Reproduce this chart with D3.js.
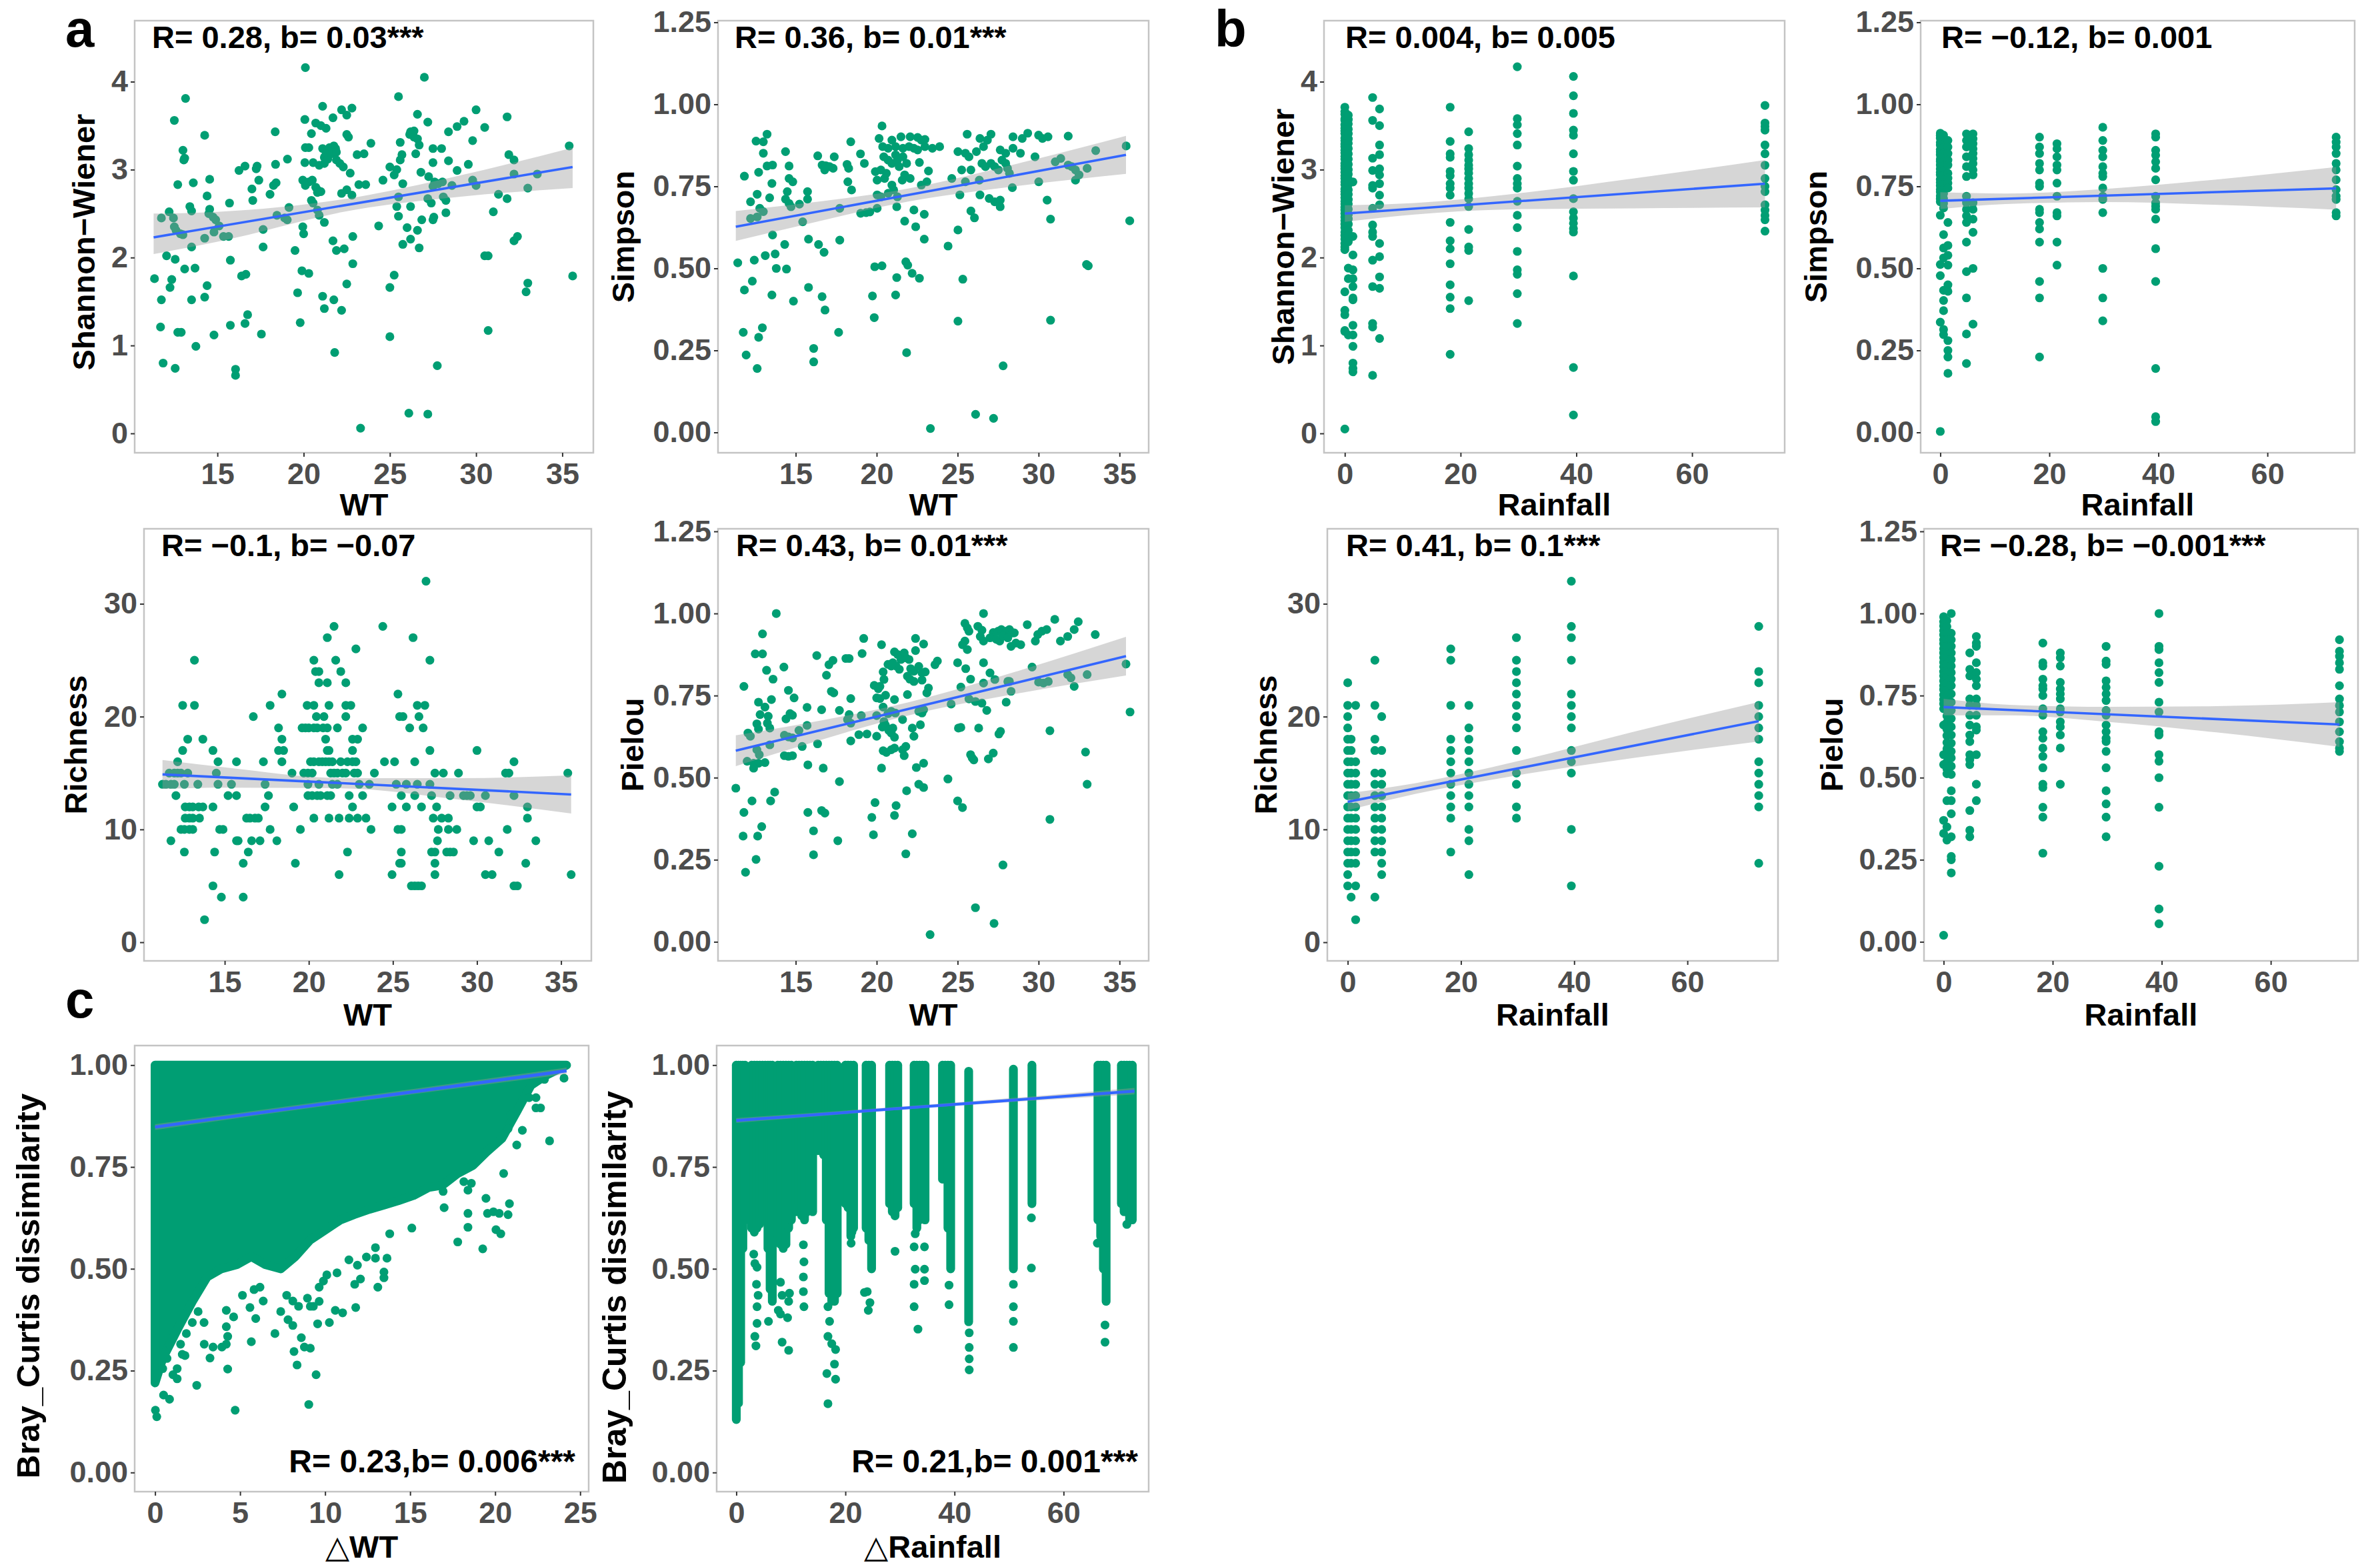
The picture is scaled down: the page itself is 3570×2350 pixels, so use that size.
<!DOCTYPE html>
<html>
<head>
<meta charset="utf-8">
<script src="https://cdn.jsdelivr.net/npm/d3@7"></script>
<style>
  body { margin: 0; background: #fff; }
</style>
</head>
<body>
<svg id="chart" width="3570" height="2350"></svg>
<script>
/* global d3 */

// ---------- data: panel a (WT) ----------
const wtShannon = [[20.1,4.16],[27.0,4.05],[13.15,3.81],[25.5,3.83],[12.5,3.56],[21.1,3.72],[22.2,3.68],[22.8,3.70],[22.5,3.62],[20.07,3.57],[21.7,3.59],[20.7,3.53],[21.0,3.50],[21.3,3.47],[26.6,3.63],[27.2,3.54],[30.0,3.68],[31.8,3.60],[29.3,3.55],[28.9,3.49],[30.5,3.48],[28.4,3.43],[18.35,3.43],[14.26,3.39],[20.45,3.41],[22.5,3.40],[22.6,3.37],[26.2,3.43],[26.4,3.44],[26.15,3.40],[26.4,3.37],[26.6,3.35],[26.7,3.28],[29.8,3.33],[25.6,3.31],[23.9,3.30],[13.0,3.22],[13.1,3.13],[13.05,3.11],[20.1,3.25],[20.3,3.25],[21.1,3.24],[21.5,3.25],[21.75,3.27],[21.85,3.24],[21.5,3.20],[21.3,3.18],[21.2,3.14],[21.4,3.12],[21.6,3.18],[21.9,3.20],[27.5,3.24],[28.0,3.24],[31.9,3.17],[32.2,3.11],[25.7,3.17],[25.6,3.11],[23.1,3.17],[23.5,3.18],[26.5,3.18],[19.06,3.12],[17.3,3.04],[16.6,3.04],[17.25,3.01],[16.25,2.99],[18.37,3.06],[20.07,3.08],[20.55,3.08],[20.9,3.05],[21.2,3.07],[21.9,3.11],[22.1,3.07],[22.3,3.03],[22.7,2.96],[25.0,3.03],[25.4,3.0],[25.25,2.94],[27.5,3.08],[28.4,3.10],[29.55,3.06],[26.8,2.97],[28.9,2.99],[27.25,2.92],[27.6,2.86],[27.5,2.81],[27.8,2.84],[28.05,2.86],[32.2,2.95],[33.55,2.95],[29.8,2.88],[30.0,2.82],[13.6,2.85],[14.55,2.89],[12.7,2.83],[17.0,2.78],[17.4,2.88],[18.25,2.82],[18.4,2.85],[19.95,2.88],[20.3,2.86],[20.1,2.82],[20.5,2.88],[20.7,2.80],[20.8,2.77],[21.0,2.75],[20.8,2.74],[23.2,2.83],[23.6,2.83],[24.6,2.88],[25.75,2.84],[28.6,2.82],[22.2,2.73],[22.5,2.77],[22.8,2.71],[31.3,2.72],[31.8,2.67],[33.0,2.79],[14.4,2.70],[17.05,2.65],[18.05,2.72],[15.7,2.62],[20.45,2.65],[20.55,2.62],[25.5,2.69],[25.4,2.58],[27.2,2.67],[27.4,2.62],[28.1,2.69],[28.25,2.65],[13.4,2.58],[13.5,2.53],[14.55,2.55],[14.5,2.50],[19.15,2.57],[26.2,2.58],[12.2,2.52],[20.8,2.54],[20.9,2.48],[18.45,2.48],[28.25,2.51],[31.0,2.52],[11.75,2.45],[12.45,2.45],[14.75,2.46],[14.9,2.43],[18.9,2.45],[19.05,2.43],[25.5,2.47],[27.55,2.46],[27.5,2.43],[21.2,2.40],[12.5,2.35],[12.6,2.31],[12.85,2.27],[13.0,2.26],[15.1,2.36],[24.35,2.36],[26.85,2.43],[26.0,2.34],[17.65,2.32],[19.95,2.35],[20.0,2.27],[14.8,2.29],[15.35,2.24],[15.65,2.24],[14.26,2.22],[26.6,2.31],[22.85,2.24],[21.7,2.19],[32.2,2.19],[32.4,2.24],[13.5,2.12],[17.65,2.12],[25.75,2.15],[26.2,2.21],[26.7,2.11],[21.9,2.08],[22.35,2.10],[19.5,2.08],[12.05,2.02],[12.55,1.98],[15.75,1.97],[30.5,2.02],[30.7,2.02],[22.85,1.93],[13.1,1.87],[13.7,1.88],[19.9,1.85],[20.3,1.82],[11.35,1.76],[12.35,1.75],[16.4,1.79],[16.65,1.81],[25.25,1.80],[35.6,1.79],[22.5,1.70],[33.0,1.71],[32.9,1.61],[12.25,1.66],[14.4,1.68],[25.0,1.66],[19.65,1.60],[21.1,1.56],[14.26,1.55],[11.75,1.52],[13.5,1.52],[21.75,1.52],[21.2,1.42],[22.2,1.40],[16.75,1.35],[16.6,1.25],[19.8,1.26],[15.75,1.23],[11.7,1.21],[12.7,1.15],[12.9,1.15],[14.8,1.12],[17.55,1.13],[25.0,1.10],[30.7,1.17],[13.75,0.99],[21.8,0.92],[11.85,0.80],[12.55,0.74],[27.75,0.77],[16.05,0.73],[16.05,0.66],[26.1,0.23],[27.2,0.22],[23.3,0.06],[35.4,3.27]];

const wtSimpson = [[20.33,0.934],[13.23,0.909],[12.55,0.888],[13.0,0.886],[18.4,0.886],[25.59,0.909],[27.06,0.909],[29.33,0.912],[30.0,0.906],[30.24,0.896],[30.58,0.901],[31.83,0.903],[28.42,0.901],[28.99,0.896],[20.15,0.896],[20.94,0.891],[21.5,0.901],[22.07,0.901],[22.53,0.899],[22.76,0.891],[22.98,0.893],[20.37,0.871],[20.71,0.866],[21.17,0.871],[21.62,0.866],[22.0,0.871],[22.3,0.866],[22.53,0.861],[22.98,0.871],[23.44,0.866],[23.89,0.871],[13.0,0.851],[14.37,0.856],[16.36,0.843],[17.38,0.840],[19.0,0.849],[19.24,0.82],[25.02,0.856],[25.48,0.851],[25.7,0.84],[26.16,0.856],[26.6,0.871],[26.38,0.896],[26.84,0.891],[27.63,0.861],[27.97,0.851],[27.74,0.83],[28.42,0.866],[28.88,0.851],[29.78,0.84],[33.53,0.859],[35.41,0.873],[20.44,0.84],[20.71,0.83],[20.94,0.82],[21.17,0.846],[21.28,0.83],[21.39,0.81],[21.62,0.84],[21.85,0.82],[22.64,0.823],[16.63,0.815],[16.86,0.813],[17.09,0.81],[17.31,0.805],[16.79,0.80],[18.17,0.817],[18.27,0.805],[14.59,0.812],[13.23,0.812],[13.57,0.815],[12.71,0.793],[19.92,0.795],[20.26,0.80],[20.6,0.79],[20.03,0.769],[23.2,0.797],[25.25,0.80],[25.82,0.80],[27.06,0.82],[27.29,0.81],[27.52,0.80],[26.5,0.82],[26.72,0.81],[27.97,0.82],[28.08,0.805],[28.2,0.79],[31.03,0.825],[31.37,0.835],[31.83,0.815],[32.05,0.81],[32.28,0.80],[32.5,0.785],[33.0,0.805],[11.83,0.781],[13.53,0.759],[14.59,0.774],[14.82,0.764],[18.22,0.764],[18.45,0.739],[20.49,0.774],[20.94,0.754],[21.58,0.769],[21.73,0.785],[22.07,0.774],[22.76,0.754],[23.1,0.764],[24.64,0.774],[25.48,0.764],[26.34,0.769],[28.38,0.746],[30.01,0.764],[32.28,0.769],[15.73,0.734],[14.48,0.734],[13.39,0.715],[15.73,0.711],[12.21,0.703],[12.62,0.726],[14.37,0.711],[14.59,0.698],[14.71,0.688],[15.23,0.696],[20.03,0.724],[20.26,0.718],[20.71,0.729],[21.05,0.739],[21.28,0.718],[25.14,0.724],[26.38,0.724],[26.95,0.713],[27.29,0.703],[27.63,0.708],[27.63,0.688],[30.53,0.708],[12.78,0.683],[13.0,0.673],[12.21,0.652],[12.62,0.657],[17.72,0.683],[20.03,0.683],[21.24,0.688],[22.3,0.678],[19.01,0.668],[19.35,0.67],[19.58,0.672],[22.94,0.665],[25.82,0.675],[26.04,0.654],[15.43,0.642],[21.73,0.644],[30.74,0.65],[35.63,0.645],[22.41,0.627],[25.02,0.617],[15.79,0.589],[17.72,0.586],[22.94,0.589],[16.41,0.573],[16.75,0.549],[14.32,0.573],[24.41,0.568],[13.57,0.602],[13.12,0.539],[13.73,0.544],[11.42,0.517],[12.44,0.525],[19.88,0.505],[20.33,0.508],[32.96,0.512],[33.07,0.508],[13.8,0.50],[14.43,0.498],[21.8,0.52],[21.92,0.51],[12.32,0.461],[22.19,0.485],[22.64,0.47],[21.24,0.472],[25.32,0.467],[11.83,0.434],[15.79,0.442],[13.53,0.419],[16.63,0.414],[19.74,0.416],[21.17,0.419],[14.86,0.40],[16.81,0.373],[19.85,0.35],[25.02,0.339],[30.74,0.342],[12.94,0.319],[11.76,0.305],[17.65,0.305],[12.71,0.29],[16.11,0.256],[16.11,0.215],[11.94,0.236],[21.85,0.243],[12.62,0.195],[27.81,0.203],[26.11,0.055],[27.22,0.043],[23.32,0.012]];

const wtRichness = [[26.97,32],[21.5,28],[24.4,28],[21.1,27],[26.2,27],[22.8,26],[13.2,25],[20.3,25],[21.6,25],[27.2,25],[20.4,24],[20.6,24],[21.9,24],[20.6,23],[21.1,23],[22.2,23],[18.4,22],[25.3,22],[12.5,21],[13.2,21],[17.7,21],[19.9,21],[20.3,21],[21.2,21],[22.2,21],[22.5,21],[26.45,21],[26.9,21],[16.7,20],[20.45,20],[20.9,20],[22.2,20],[25.4,20],[25.6,20],[26.55,20],[18.2,19],[19.6,19],[19.8,19],[20.0,19],[20.3,19],[20.5,19],[20.85,19],[21.1,19],[21.7,19],[23.2,19],[26.0,19],[26.8,19],[12.8,18],[13.7,18],[18.4,18],[21.0,18],[22.6,18],[22.9,18],[12.5,17],[14.3,17],[18.2,17],[18.5,17],[21.1,17],[21.2,17],[22.6,17],[27.2,17],[30.0,17],[12.2,16],[14.6,16],[15.7,16],[17.3,16],[18.4,16],[20.1,16],[20.3,16],[20.6,16],[20.8,16],[21.0,16],[21.2,16],[21.4,16],[21.9,16],[22.3,16],[22.6,16],[22.8,16],[24.5,16],[25.1,16],[26.3,16],[32.2,16],[11.7,15],[12.0,15],[12.2,15],[12.4,15],[12.8,15],[14.5,15],[19.0,15],[19.7,15],[19.95,15],[20.2,15],[21.3,15],[21.5,15],[21.7,15],[22.0,15],[22.2,15],[22.7,15],[22.9,15],[23.9,15],[27.5,15],[28.0,15],[28.9,15],[31.7,15],[31.9,15],[35.4,15],[11.3,14],[11.5,14],[11.8,14],[12.0,14],[12.6,14],[13.4,14],[14.6,14],[15.4,14],[17.4,14],[19.95,14],[20.6,14],[21.4,14],[21.7,14],[23.0,14],[23.6,14],[25.2,14],[25.8,14],[26.45,14],[27.2,14],[12.1,13],[15.2,13],[15.7,13],[17.6,13],[19.95,13],[20.2,13],[20.5,13],[20.7,13],[21.1,13],[21.3,13],[22.4,13],[23.2,13],[25.5,13],[26.3,13],[27.3,13],[28.4,13],[29.2,13],[29.4,13],[29.6,13],[30.5,13],[32.2,13],[12.65,12],[12.9,12],[13.1,12],[13.45,12],[13.7,12],[14.3,12],[17.4,12],[19.1,12],[22.6,12],[24.95,12],[25.8,12],[26.7,12],[27.6,12],[30.0,12],[30.2,12],[33.0,12],[12.65,11],[12.9,11],[13.1,11],[13.5,11],[16.3,11],[16.5,11],[16.8,11],[17.0,11],[20.3,11],[21.2,11],[21.8,11],[22.4,11],[22.9,11],[23.4,11],[27.4,11],[27.9,11],[28.3,11],[33.0,11],[12.4,10],[12.6,10],[12.9,10],[13.1,10],[14.7,10],[14.9,10],[17.7,10],[19.5,10],[23.7,10],[25.3,10],[25.5,10],[27.7,10],[28.3,10],[28.8,10],[31.8,10],[11.8,9],[15.7,9],[15.8,9],[16.6,9],[17.1,9],[18.1,9],[27.65,9],[29.8,9],[30.7,9],[33.5,9],[12.6,8],[14.4,8],[16.4,8],[22.3,8],[25.5,8],[27.3,8],[27.5,8],[28.2,8],[28.4,8],[28.6,8],[31.3,8],[16.1,7],[19.2,7],[25.4,7],[25.5,7],[27.5,7],[32.9,7],[21.8,6],[24.95,6],[27.5,6],[30.5,6],[30.9,6],[35.6,6],[14.3,5],[26.1,5],[26.3,5],[26.5,5],[26.7,5],[32.2,5],[32.4,5],[14.8,4],[16.1,4],[13.8,2]];

const wtPielou = [[13.8,1.0],[26.6,1.0],[12.95,0.938],[25.45,0.97],[25.6,0.956],[25.7,0.946],[26.25,0.961],[26.5,0.949],[26.4,0.93],[27.2,0.942],[27.5,0.946],[27.7,0.951],[28.0,0.946],[28.2,0.951],[28.4,0.941],[27.0,0.926],[27.4,0.921],[27.6,0.916],[27.8,0.931],[28.1,0.926],[28.5,0.941],[28.6,0.910],[28.3,0.900],[29.3,0.966],[29.95,0.936],[30.2,0.946],[30.5,0.951],[31.0,0.982],[31.35,0.916],[31.8,0.93],[32.2,0.951],[32.45,0.975],[33.5,0.936],[28.9,0.905],[29.8,0.916],[25.45,0.916],[25.3,0.905],[25.6,0.89],[26.6,0.916],[19.2,0.924],[22.4,0.924],[22.9,0.907],[20.3,0.905],[12.5,0.877],[12.95,0.877],[16.3,0.872],[19.1,0.878],[21.1,0.883],[21.3,0.875],[21.6,0.870],[21.8,0.865],[22.0,0.860],[21.7,0.880],[21.5,0.860],[22.4,0.887],[18.1,0.863],[18.3,0.863],[17.3,0.857],[17.05,0.844],[20.7,0.845],[20.9,0.840],[21.4,0.830],[21.2,0.840],[21.0,0.850],[23.75,0.855],[23.6,0.844],[25.0,0.85],[26.6,0.85],[29.6,0.837],[35.4,0.846],[14.27,0.837],[13.2,0.827],[22.1,0.832],[22.3,0.824],[22.6,0.839],[22.8,0.819],[25.5,0.832],[23.0,0.822],[16.9,0.812],[13.6,0.80],[20.4,0.822],[20.45,0.799],[21.9,0.809],[22.05,0.80],[22.3,0.793],[25.8,0.80],[27.0,0.819],[27.3,0.799],[28.1,0.793],[30.0,0.791],[30.3,0.788],[30.6,0.793],[31.8,0.814],[32.0,0.804],[32.2,0.778],[33.0,0.814],[11.8,0.778],[22.8,0.797],[19.85,0.781],[20.1,0.771],[20.2,0.778],[26.6,0.788],[25.2,0.776],[14.55,0.766],[17.2,0.763],[17.35,0.758],[23.2,0.773],[23.1,0.758],[28.3,0.763],[28.2,0.793],[14.9,0.743],[12.7,0.73],[13.5,0.738],[18.4,0.741],[20.0,0.743],[20.2,0.741],[20.55,0.751],[21.1,0.738],[21.9,0.753],[28.0,0.73],[24.6,0.724],[25.7,0.74],[26.1,0.732],[26.5,0.727],[13.1,0.715],[15.7,0.714],[16.6,0.707],[17.7,0.705],[20.4,0.715],[22.6,0.702],[22.8,0.697],[22.9,0.707],[26.8,0.705],[35.65,0.70],[12.8,0.692],[13.3,0.687],[14.4,0.679],[14.65,0.695],[14.8,0.69],[18.3,0.692],[19.05,0.689],[20.0,0.689],[20.7,0.695],[20.9,0.702],[21.15,0.697],[18.2,0.677],[18.4,0.666],[21.6,0.677],[15.7,0.659],[13.25,0.666],[13.4,0.651],[12.6,0.664],[12.7,0.648],[20.45,0.671],[20.55,0.659],[20.35,0.654],[22.7,0.661],[25.05,0.651],[25.2,0.653],[26.3,0.651],[30.7,0.643],[27.65,0.641],[27.55,0.633],[15.2,0.644],[22.2,0.651],[20.75,0.644],[21.0,0.651],[20.9,0.636],[18.9,0.631],[19.4,0.633],[20.0,0.626],[22.3,0.626],[12.05,0.636],[12.2,0.626],[14.3,0.629],[14.55,0.624],[14.8,0.621],[21.1,0.623],[18.4,0.612],[16.35,0.603],[21.8,0.595],[21.6,0.585],[15.4,0.595],[13.4,0.60],[20.4,0.582],[20.6,0.577],[20.9,0.585],[21.1,0.59],[12.6,0.585],[12.75,0.57],[14.3,0.567],[14.55,0.565],[14.8,0.567],[21.7,0.567],[25.8,0.57],[25.9,0.56],[26.0,0.554],[27.2,0.575],[26.9,0.557],[32.9,0.578],[12.0,0.55],[12.4,0.544],[12.7,0.544],[13.1,0.546],[15.75,0.539],[16.7,0.529],[20.3,0.529],[22.45,0.531],[22.9,0.544],[12.4,0.529],[17.7,0.488],[24.4,0.496],[33.0,0.480],[22.6,0.48],[22.9,0.47],[11.3,0.468],[13.7,0.456],[21.85,0.46],[12.3,0.429],[13.45,0.429],[19.9,0.424],[25.0,0.429],[25.3,0.409],[21.2,0.415],[11.8,0.394],[15.75,0.394],[16.6,0.40],[16.8,0.392],[21.1,0.385],[19.7,0.379],[30.7,0.373],[12.9,0.351],[16.1,0.338],[11.75,0.322],[12.65,0.322],[19.8,0.326],[22.2,0.329],[17.6,0.308],[16.1,0.265],[21.8,0.268],[12.55,0.251],[11.9,0.212],[27.8,0.234],[26.1,0.104],[27.25,0.056],[23.3,0.022]];

// ---------- data: panel b (Rainfall, one column of samples per rainfall value) ----------
const rainCols = [0, 0.6, 1.4, 4.8, 6.0, 18.2, 21.4, 29.8, 39.5, 72.6];

const rainShannon = [
  [3.71,3.66,3.63,3.58,3.56,3.51,3.47,3.44,3.41,3.36,3.33,3.29,3.26,3.22,3.19,3.15,3.12,3.07,3.04,3.01,2.97,2.93,2.90,2.86,2.83,2.78,2.75,2.72,2.68,2.64,2.61,2.57,2.54,2.50,2.46,2.42,2.38,2.34,2.29,2.25,2.21,2.16,2.12,2.09,1.61,1.40,1.35,1.17,1.16,0.05],
  [3.62,3.57,3.52,3.46,3.41,3.35,3.30,3.24,3.18,3.12,3.06,3.00,2.95,2.89,2.83,2.77,2.72,2.66,2.61,2.55,2.49,2.44,2.38,2.31,2.25,2.18,1.88,1.76,1.12],
  [2.86,2.24,2.03,1.86,1.76,1.67,1.54,1.52,1.23,1.12,0.99,0.80,0.74,0.70],
  [3.82,3.56,3.13,2.99,2.82,2.79,2.56,2.37,2.29,2.24,1.97,1.67,1.25,1.21,0.66],
  [3.69,3.50,3.28,3.17,3.01,2.94,2.84,2.71,2.60,2.16,2.01,1.78,1.65,1.08],
  [3.71,3.32,3.18,3.14,2.98,2.93,2.84,2.79,2.71,2.40,2.19,2.10,1.93,1.69,1.55,1.42,0.90],
  [3.43,3.24,3.17,3.11,3.05,3.01,2.96,2.90,2.84,2.79,2.73,2.67,2.58,2.32,2.12,2.08,1.51],
  [4.17,3.58,3.51,3.41,3.28,3.04,2.90,2.84,2.79,2.64,2.48,2.34,2.07,1.86,1.81,1.59,1.25],
  [4.06,3.84,3.64,3.45,3.39,3.18,2.98,2.88,2.67,2.52,2.45,2.39,2.33,2.29,1.79,0.75,0.21],
  [3.73,3.53,3.49,3.45,3.28,3.18,3.05,2.90,2.81,2.75,2.60,2.54,2.48,2.43,2.30]
];

const rainSimpson = [
  [0.912,0.905,0.897,0.884,0.876,0.862,0.855,0.846,0.833,0.826,0.815,0.804,0.793,0.785,0.771,0.762,0.752,0.741,0.733,0.721,0.712,0.703,0.662,0.512,0.478,0.336,0.003],
  [0.906,0.893,0.879,0.868,0.851,0.838,0.827,0.812,0.798,0.784,0.769,0.757,0.741,0.728,0.713,0.698,0.684,0.603,0.562,0.532,0.433,0.402,0.371,0.314,0.298],
  [0.89,0.87,0.85,0.83,0.815,0.79,0.775,0.76,0.745,0.64,0.57,0.54,0.51,0.45,0.43,0.28,0.25,0.23,0.18],
  [0.91,0.89,0.87,0.84,0.81,0.78,0.72,0.70,0.68,0.66,0.64,0.58,0.49,0.41,0.30,0.21],
  [0.91,0.895,0.88,0.865,0.85,0.835,0.82,0.80,0.785,0.70,0.68,0.65,0.61,0.50,0.33],
  [0.90,0.87,0.85,0.82,0.80,0.76,0.75,0.68,0.67,0.64,0.62,0.58,0.46,0.41,0.23],
  [0.88,0.865,0.84,0.815,0.80,0.76,0.72,0.67,0.66,0.58,0.51],
  [0.93,0.89,0.86,0.84,0.81,0.79,0.78,0.745,0.72,0.71,0.67,0.50,0.41,0.34],
  [0.91,0.90,0.86,0.845,0.825,0.805,0.77,0.72,0.70,0.69,0.68,0.65,0.56,0.46,0.195,0.048,0.033],
  [0.90,0.885,0.87,0.85,0.82,0.80,0.77,0.74,0.72,0.71,0.67,0.66]
];

const rainRichness = [
  [23,21,20,19,18,17,16,15,14,13,12,11,10,9,8,7,6,5],
  [18,17,16,15,14,13,12,11,10,9,8,7,4],
  [21,16,15,14,13,12,11,10,9,8,7,5,2],
  [25,21,18,17,15,14,13,12,11,10,9,8,4],
  [20,17,15,14,13,12,11,10,9,8,7,6],
  [26,25,21,18,17,16,15,14,13,12,11,8],
  [21,19,18,17,16,15,14,13,12,10,9,6],
  [27,25,24,23,22,21,20,19,17,15,14,12,11],
  [32,28,27,25,22,21,20,19,17,16,15,10,5],
  [28,24,23,21,20,19,18,16,15,14,13,12,7]
];

const rainPielou = [
  [0.99,0.975,0.962,0.948,0.935,0.92,0.908,0.893,0.88,0.866,0.852,0.838,0.823,0.81,0.795,0.78,0.768,0.752,0.738,0.725,0.71,0.66,0.57,0.54,0.37,0.33,0.02],
  [0.978,0.96,0.94,0.92,0.90,0.885,0.865,0.845,0.825,0.805,0.787,0.766,0.748,0.727,0.706,0.688,0.668,0.647,0.628,0.607,0.588,0.567,0.548,0.527,0.512,0.43,0.35,0.31],
  [1.0,0.94,0.92,0.90,0.88,0.86,0.84,0.82,0.80,0.78,0.755,0.73,0.705,0.68,0.655,0.63,0.605,0.58,0.56,0.535,0.51,0.46,0.43,0.39,0.32,0.26,0.25,0.21],
  [0.88,0.83,0.81,0.74,0.72,0.69,0.66,0.63,0.61,0.57,0.555,0.54,0.40,0.34,0.32],
  [0.93,0.91,0.90,0.85,0.82,0.80,0.78,0.74,0.72,0.69,0.655,0.645,0.57,0.48,0.43],
  [0.91,0.85,0.84,0.80,0.78,0.77,0.75,0.71,0.69,0.64,0.62,0.59,0.565,0.53,0.48,0.47,0.41,0.38,0.27],
  [0.88,0.865,0.84,0.79,0.77,0.755,0.74,0.71,0.70,0.67,0.655,0.63,0.59,0.48],
  [0.90,0.855,0.845,0.795,0.775,0.755,0.735,0.705,0.69,0.66,0.64,0.62,0.61,0.58,0.53,0.46,0.42,0.38,0.32],
  [1.0,0.90,0.89,0.85,0.82,0.79,0.73,0.70,0.64,0.63,0.57,0.55,0.50,0.41,0.23,0.10,0.055],
  [0.92,0.885,0.87,0.85,0.83,0.78,0.74,0.72,0.70,0.67,0.64,0.61,0.59,0.58]
];

// ---------- data: panel c (pairwise dissimilarity) ----------
// dense cloud for dWT: [dWT, lower edge, upper edge] (point centres)
const dwtCloud = [[0,0.22,1.0],[0.45,0.28,1.0],[1.3,0.35,1.0],[2.2,0.42,1.0],[3.06,0.48,1.0],[3.9,0.50,1.0],[4.8,0.51,1.0],[5.66,0.53,1.0],[6.5,0.51,1.0],[7.4,0.50,1.0],[8.25,0.53,1.0],[9.1,0.57,1.0],[10.0,0.595,1.0],[10.9,0.62,1.0],[11.7,0.633,1.0],[12.6,0.646,1.0],[13.5,0.657,1.0],[14.3,0.667,1.0],[15.2,0.68,1.0],[16.1,0.70,1.0],[16.9,0.705,1.0],[17.8,0.734,1.0],[18.7,0.754,1.0],[19.5,0.787,1.0],[20.4,0.82,1.0],[21.3,0.888,1.0],[22.1,0.95,1.0],[23.0,0.975,1.0],[24.2,1.0,1.0]];
const dwtOutliers = [[0.02,0.153],[0.1,0.137],[0.85,0.18],[0.5,0.19],[1.05,0.24],[1.3,0.23],[0.7,0.28],[1.6,0.29],[2.45,0.214],[1.76,0.287],[3.23,0.281],[2.89,0.315],[3.41,0.308],[3.93,0.308],[4.19,0.315],[4.27,0.334],[4.19,0.358],[4.27,0.254],[4.71,0.153],[5.66,0.321],[4.19,0.398],[4.62,0.382],[5.58,0.405],[5.92,0.378],[7.05,0.341],[7.39,0.395],[7.82,0.375],[8.1,0.361],[8.6,0.331],[8.17,0.297],[8.78,0.308],[9.13,0.305],[8.35,0.264],[9.47,0.24],[9.04,0.167],[9.56,0.365],[10.25,0.368],[10.6,0.398],[11.03,0.392],[11.8,0.405],[9.65,0.42],[9.13,0.408],[11.4,0.522],[11.9,0.509],[12.43,0.529],[12.96,0.526],[13.64,0.526],[11.74,0.462],[12.08,0.475],[13.1,0.455],[13.46,0.492],[13.46,0.478],[12.96,0.552],[13.8,0.586],[15.1,0.6],[17.0,0.65],[17.8,0.566],[18.4,0.636],[18.4,0.602],[19.27,0.549],[19.46,0.673],[19.55,0.636],[19.9,0.64],[20.24,0.636],[20.76,0.633],[20.84,0.66],[20.05,0.596],[20.33,0.586],[20.5,0.734],[18.6,0.71],[21.6,0.84],[23.2,0.814],[22.67,0.895],[22.4,0.895],[22.0,0.92],[22.4,0.92],[24.05,0.968],[21.8,0.975],[22.9,0.965],[21.27,0.804],[20.76,0.844],[20.9,0.878],[16.94,0.69],[18.4,0.693],[18.16,0.714],[5.82,0.449],[6.17,0.455],[6.36,0.421],[5.14,0.435],[7.74,0.435],[8.1,0.421],[8.44,0.408],[8.96,0.428],[9.31,0.408],[9.65,0.455],[10.1,0.485],[10.7,0.49],[9.9,0.47],[2.53,0.395],[2.88,0.368],[2.19,0.368],[1.84,0.341],[1.5,0.315],[0.85,0.315],[1.3,0.255],[0.45,0.255]];

// solid runs of points for dRainfall: [dRainfall, lowest, highest]
const drainRuns = [[0,0.13,1.0],[0.4,0.17,1.0],[0.8,0.27,1.0],[1.2,0.55,1.0],[1.6,0.62,1.0],[2.8,0.60,1.0],[3.3,0.59,1.0],[3.8,0.60,1.0],[4.3,0.61,1.0],[4.8,0.63,1.0],[5.3,0.62,1.0],[5.8,0.55,1.0],[6.2,0.45,1.0],[6.6,0.42,1.0],[7.6,0.58,1.0],[8.1,0.56,1.0],[8.6,0.55,1.0],[9.1,0.56,1.0],[9.6,0.60,1.0],[10.1,0.62,1.0],[11.0,0.64,1.0],[11.5,0.66,1.0],[12.0,0.63,1.0],[12.5,0.62,1.0],[13.0,0.64,1.0],[13.5,0.66,1.0],[14.0,0.64,1.0],[15.0,0.79,1.0],[15.5,0.79,1.0],[16.0,0.78,1.0],[16.5,0.62,1.0],[17.0,0.44,1.0],[17.5,0.42,1.0],[18.0,0.42,1.0],[18.5,0.44,1.0],[20.0,0.66,1.0],[20.5,0.65,1.0],[21.0,0.58,1.0],[21.5,0.60,1.0],[23.8,0.60,1.0],[24.3,0.57,1.0],[24.8,0.50,1.0],[28.1,0.66,1.0],[28.6,0.64,1.0],[29.1,0.63,1.0],[29.6,0.65,1.0],[32.6,0.66,1.0],[33.1,0.60,1.0],[33.6,0.62,1.0],[34.1,0.64,1.0],[34.6,0.62,1.0],[37.8,0.72,1.0],[38.3,0.72,1.0],[38.8,0.60,1.0],[39.3,0.50,1.0],[42.6,0.37,0.985],[50.8,0.50,0.99],[54.2,0.66,1.0],[66.3,0.62,1.0],[66.8,0.58,1.0],[67.3,0.50,1.0],[67.8,0.42,1.0],[70.6,0.66,1.0],[71.1,0.64,1.0],[71.6,0.64,1.0],[72.1,0.62,1.0],[72.6,0.62,1.0]];
const drainOutliers = [[3.2,0.536],[3.4,0.513],[3.8,0.504],[3.7,0.462],[4.0,0.435],[3.8,0.407],[3.8,0.366],[3.4,0.334],[3.6,0.311],[5.9,0.371],[8.1,0.467],[8.4,0.435],[7.7,0.398],[8.1,0.389],[8.4,0.32],[9.6,0.30],[9.75,0.44],[9.6,0.42],[9.4,0.38],[12.3,0.559],[12.4,0.517],[12.3,0.48],[12.3,0.444],[12.4,0.407],[16.8,0.407],[17.1,0.371],[16.8,0.334],[17.5,0.316],[18.2,0.302],[16.6,0.243],[18.2,0.229],[16.8,0.169],[18.0,0.266],[21.2,0.59],[21.05,0.563],[24.0,0.444],[24.5,0.417],[24.2,0.398],[23.5,0.442],[29.1,0.543],[32.8,0.586],[32.6,0.554],[32.8,0.499],[32.6,0.462],[32.6,0.407],[33.3,0.352],[34.5,0.554],[34.5,0.499],[34.5,0.471],[39.0,0.46],[39.0,0.412],[42.7,0.343],[42.7,0.307],[42.7,0.279],[42.7,0.252],[50.8,0.462],[50.8,0.407],[50.8,0.371],[50.8,0.307],[54.1,0.625],[54.1,0.502],[67.6,0.362],[67.6,0.32],[71.6,0.609],[66.2,0.563]];

// ---------- fitted lines and 95% bands ----------
const fitA1 = [[11.3,2.23],[35.6,3.03]];
const ribA1 = [[11.3,2.04,2.50],[15,2.18,2.52],[23,2.545,2.685],[29,2.69,2.93],[35.6,2.79,3.25]];
const fitA2 = [[11.3,0.627],[35.4,0.846]];
const ribA2 = [[11.3,0.584,0.675],[15,0.627,0.695],[22,0.704,0.744],[29,0.753,0.823],[35.4,0.788,0.904]];
const fitA3 = [[11.3,14.88],[35.6,13.1]];
const ribA3 = [[11.3,13.6,16.16],[15,13.7,15.5],[22,13.65,14.55],[29,12.64,14.54],[35.6,11.41,14.79]];
const fitA4 = [[11.3,0.582],[35.4,0.87]];
const ribA4 = [[11.3,0.535,0.629],[15,0.592,0.66],[22,0.69,0.73],[29,0.759,0.829],[35.4,0.811,0.929]];
const fitB1 = [[0,2.50],[72.6,2.84]];
const ribB1 = [[0,2.405,2.595],[12,2.49,2.62],[30,2.55,2.73],[50,2.56,2.90],[72.6,2.57,3.11]];
const fitB2 = [[0,0.706],[72.6,0.744]];
const ribB2 = [[0,0.681,0.732],[12,0.696,0.728],[30,0.702,0.742],[50,0.694,0.77],[72.6,0.679,0.809]];
const fitB3 = [[0,12.45],[72.6,19.6]];
const ribB3 = [[0,11.7,13.2],[12,13.15,14.1],[30,14.8,16.05],[50,16.3,18.6],[72.6,17.8,21.3]];
const fitB4 = [[0,0.715],[72.6,0.662]];
const ribB4 = [[0,0.69,0.74],[12,0.69,0.722],[30,0.67,0.716],[50,0.638,0.718],[72.6,0.594,0.73]];
const fitC1 = [[0,0.848],[24.2,0.986]];
const ribC1 = [[0,0.841,0.855],[12,0.911,0.923],[24.2,0.978,0.994]];
const fitC2 = [[0,0.864],[73,0.936]];
const ribC2 = [[0,0.858,0.870],[36,0.896,0.904],[73,0.928,0.944]];

// ---------- tick values and labels ----------
const wtTicks = [15, 20, 25, 30, 35];
const rainTicks = [0, 20, 40, 60];
const dwtTicks = [0, 5, 10, 15, 20, 25];
const shannonTicks = [0, 1, 2, 3, 4];
const indexTicks = [0, 0.25, 0.5, 0.75, 1.0, 1.25];
const richTicks = [0, 10, 20, 30];
const brayTicks = [0, 0.25, 0.5, 0.75, 1.0];

const statLabels = {
  a1: 'R= 0.28, b= 0.03***', a2: 'R= 0.36, b= 0.01***',
  a3: 'R= \u22120.1, b= \u22120.07', a4: 'R= 0.43, b= 0.01***',
  b1: 'R= 0.004, b= 0.005', b2: 'R= \u22120.12, b= 0.001',
  b3: 'R= 0.41, b= 0.1***', b4: 'R= \u22120.28, b= \u22120.001***',
  c1: 'R= 0.23,b= 0.006***', c2: 'R= 0.21,b= 0.001***'
};

// ---------- layout ----------
const FONT = '"Liberation Sans", Arial, Helvetica, sans-serif';
const GREEN = '#009E73';
const R_PT = 6.6;
const f0 = d3.format('d'), f2 = d3.format('.2f');

const panels = [
  { id: 'a1', box: [202, 31, 890, 679], xDom: [10.2, 36.8], yDom: [-0.22, 4.694], xt: wtTicks, yt: shannonTicks, yf: f0,
    xTitle: 'WT', yTitle: 'Shannon\u2212Wiener', titleX: 142, titleDy: 8, xTitleDy: 94, pts: wtShannon, fit: fitA1, rib: ribA1, annDx: 26 },
  { id: 'a2', box: [1077, 31, 1723, 679], xDom: [10.2, 36.8], yDom: [-0.062, 1.255], xt: wtTicks, yt: indexTicks, yf: f2,
    xTitle: 'WT', yTitle: 'Simpson', titleX: 951, titleDy: 0, xTitleDy: 94, pts: wtSimpson, fit: fitA2, rib: ribA2, annDx: 25 },
  { id: 'a3', box: [216, 793, 887, 1441], xDom: [10.2, 36.8], yDom: [-1.65, 36.65], xt: wtTicks, yt: richTicks, yf: f0,
    xTitle: 'WT', yTitle: 'Richness', titleX: 130, titleDy: 0, xTitleDy: 97, pts: wtRichness, fit: fitA3, rib: ribA3, annDx: 26 },
  { id: 'a4', box: [1077, 793, 1723, 1441], xDom: [10.2, 36.8], yDom: [-0.058, 1.258], xt: wtTicks, yt: indexTicks, yf: f2,
    xTitle: 'WT', yTitle: 'Pielou', titleX: 965, titleDy: 0, xTitleDy: 97, pts: wtPielou, fit: fitA4, rib: ribA4, annDx: 27 },
  { id: 'b1', box: [1986, 31, 2677, 679], xDom: [-3.6, 76.0], yDom: [-0.22, 4.694], xt: rainTicks, yt: shannonTicks, yf: f0,
    xTitle: 'Rainfall', yTitle: 'Shannon\u2212Wiener', titleX: 1941, titleDy: 0, xTitleDy: 94, cols: rainShannon, fit: fitB1, rib: ribB1, annDx: 32 },
  { id: 'b2', box: [2881, 31, 3532, 679], xDom: [-3.6, 76.0], yDom: [-0.062, 1.255], xt: rainTicks, yt: indexTicks, yf: f2,
    xTitle: 'Rainfall', yTitle: 'Simpson', titleX: 2740, titleDy: 0, xTitleDy: 94, cols: rainSimpson, fit: fitB2, rib: ribB2, annDx: 31 },
  { id: 'b3', box: [1991, 793, 2667, 1441], xDom: [-3.6, 76.0], yDom: [-1.65, 36.65], xt: rainTicks, yt: richTicks, yf: f0,
    xTitle: 'Rainfall', yTitle: 'Richness', titleX: 1915, titleDy: 0, xTitleDy: 97, cols: rainRichness, fit: fitB3, rib: ribB3, annDx: 28 },
  { id: 'b4', box: [2886, 793, 3537, 1441], xDom: [-3.6, 76.0], yDom: [-0.058, 1.258], xt: rainTicks, yt: indexTicks, yf: f2,
    xTitle: 'Rainfall', yTitle: 'Pielou', titleX: 2764, titleDy: 0, xTitleDy: 97, cols: rainPielou, fit: fitB4, rib: ribB4, annDx: 24 },
  { id: 'c1', box: [202, 1568, 883, 2237], xDom: [-1.2, 25.5], yDom: [-0.047, 1.048], xt: dwtTicks, yt: brayTicks, yf: f2,
    xTitle: 'WT', delta: true, yTitle: 'Bray_Curtis dissimilarity', titleX: 59, titleDy: 26, titleSize: 49, xTitleDy: 99,
    cloud: dwtCloud, pts: dwtOutliers, fit: fitC1, rib: ribC1, fitW: 4.6, annRight: 20, annY: 2208, annSize: 48 },
  { id: 'c2', box: [1075, 1568, 1723, 2237], xDom: [-3.6, 75.6], yDom: [-0.047, 1.048], xt: rainTicks, yt: brayTicks, yf: f2,
    xTitle: 'Rainfall', delta: true, yTitle: 'Bray_Curtis dissimilarity', titleX: 939, titleDy: 28, titleSize: 50, xTitleDy: 99,
    runs: drainRuns, pts: drainOutliers, fit: fitC2, rib: ribC2, fitW: 4.2, annRight: 16, annY: 2208, annSize: 48 }
];

const svg = d3.select('#chart');
svg.append('rect').attr('width', 3570).attr('height', 2350).attr('fill', '#fff');

function drawPanel(p) {
  const [L, T, R, B] = p.box;
  const x = d3.scaleLinear().domain(p.xDom).range([L, R]);
  const y = d3.scaleLinear().domain(p.yDom).range([B, T]);
  const g = svg.append('g').attr('class', 'panel-' + p.id);

  // dense cloud (area stroked by a point diameter so its edge looks like the dots)
  if (p.cloud) {
    const area = d3.area().x(d => x(d[0])).y0(d => y(d[1])).y1(d => y(d[2]));
    g.append('path').attr('d', area(p.cloud))
      .attr('fill', GREEN).attr('stroke', GREEN)
      .attr('stroke-width', 2 * R_PT).attr('stroke-linejoin', 'round');
  }
  // solid runs of overlapping points
  if (p.runs) {
    g.selectAll('line.run').data(p.runs).enter().append('line').attr('class', 'run')
      .attr('x1', d => x(d[0])).attr('x2', d => x(d[0]))
      .attr('y1', d => y(d[1])).attr('y2', d => y(d[2]))
      .attr('stroke', GREEN).attr('stroke-width', 2 * R_PT).attr('stroke-linecap', 'round');
  }
  // individual points
  if (p.pts) {
    g.selectAll('circle.pt').data(p.pts).enter().append('circle').attr('class', 'pt')
      .attr('cx', d => x(d[0])).attr('cy', d => y(d[1])).attr('r', R_PT).attr('fill', GREEN);
  }
  if (p.cols) {
    const flat = [];
    p.cols.forEach((vals, i) => vals.forEach(v => flat.push([rainCols[i], v])));
    g.selectAll('circle.pt').data(flat).enter().append('circle').attr('class', 'pt')
      .attr('cx', d => x(d[0])).attr('cy', d => y(d[1])).attr('r', R_PT).attr('fill', GREEN);
  }

  // confidence band and fitted line
  const band = d3.area().curve(d3.curveMonotoneX)
    .x(d => x(d[0])).y0(d => y(d[1])).y1(d => y(d[2]));
  g.append('path').attr('d', band(p.rib)).attr('fill', '#999999').attr('fill-opacity', 0.4);
  const line = d3.line().x(d => x(d[0])).y(d => y(d[1]));
  g.append('path').attr('d', line(p.fit)).attr('fill', 'none')
    .attr('stroke', '#3366FF').attr('stroke-width', p.fitW || 3.6);

  // panel border
  g.append('rect').attr('x', L).attr('y', T).attr('width', R - L).attr('height', B - T)
    .attr('fill', 'none').attr('stroke', '#c4c4c4').attr('stroke-width', 2.5);

  // axes
  const xa = g.append('g').attr('transform', `translate(0,${B})`)
    .call(d3.axisBottom(x).tickValues(p.xt).tickFormat(f0).tickSize(6).tickPadding(9));
  const ya = g.append('g').attr('transform', `translate(${L},0)`)
    .call(d3.axisLeft(y).tickValues(p.yt).tickFormat(p.yf).tickSize(6).tickPadding(4));
  [xa, ya].forEach(a => {
    a.select('.domain').remove();
    a.selectAll('line').attr('stroke', '#333').attr('stroke-width', 2);
    a.selectAll('text').attr('font-size', 45).attr('font-weight', 'bold')
      .attr('font-family', FONT).attr('fill', '#4d4d4d');
  });

  // axis titles
  const xt = g.append('text').attr('x', (L + R) / 2).attr('y', B + p.xTitleDy)
    .attr('text-anchor', 'middle').attr('font-family', FONT).attr('font-size', 47)
    .attr('font-weight', 'bold').attr('fill', '#000');
  if (p.delta) {
    xt.append('tspan').attr('font-family', '"DejaVu Sans", sans-serif').attr('font-weight', 'normal').text('\u25B3');
  }
  xt.append('tspan').text(p.xTitle);

  g.append('text').attr('transform', `translate(${p.titleX},${(T + B) / 2 + p.titleDy}) rotate(-90)`)
    .attr('text-anchor', 'middle').attr('font-family', FONT).attr('font-size', p.titleSize || 47)
    .attr('font-weight', 'bold').attr('fill', '#000').text(p.yTitle);

  // statistics label
  const st = g.append('text').attr('font-family', FONT).attr('font-size', p.annSize || 47)
    .attr('font-weight', 'bold').attr('fill', '#000').text(statLabels[p.id]);
  if (p.annRight !== undefined) {
    st.attr('x', R - p.annRight).attr('y', p.annY).attr('text-anchor', 'end');
  } else {
    st.attr('x', L + p.annDx).attr('y', T + 41).attr('text-anchor', 'start');
  }
}

panels.forEach(drawPanel);

// panel letters
const letters = [['a', 98, 70], ['b', 1822, 70], ['c', 98, 1526]];
svg.selectAll('text.letter').data(letters).enter().append('text').attr('class', 'letter')
  .attr('x', d => d[1]).attr('y', d => d[2])
  .attr('font-family', FONT).attr('font-size', 78).attr('font-weight', 'bold')
  .attr('fill', '#000').text(d => d[0]);
</script>
</body>
</html>
